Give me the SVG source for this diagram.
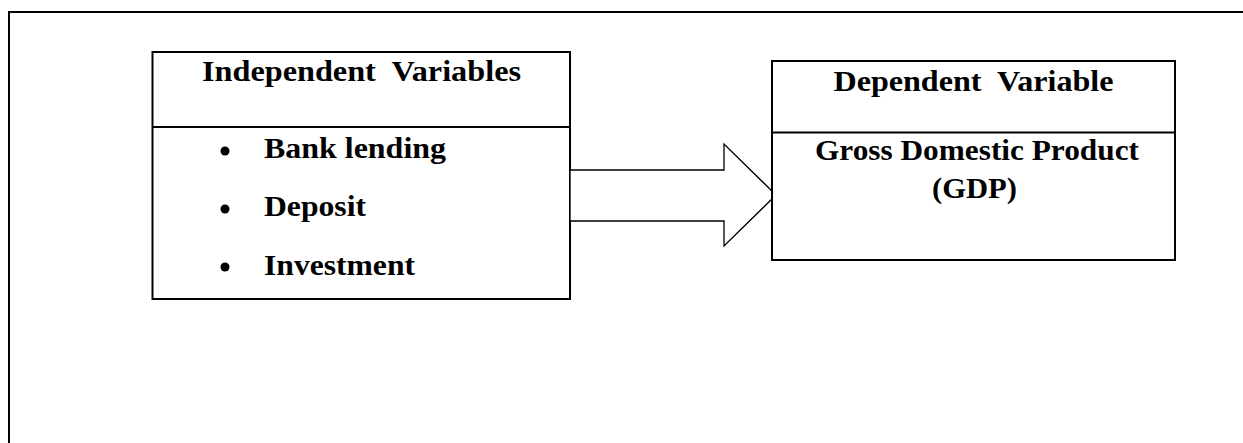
<svg xmlns="http://www.w3.org/2000/svg" width="1243" height="443" viewBox="0 0 1243 443">
<style>
.box{fill:#fff;stroke:#000;stroke-width:2}
.ln{stroke:#000;stroke-width:2;fill:none}
.t{font-family:"Liberation Serif","Times New Roman",serif;font-weight:bold;font-size:30px;fill:#000;white-space:pre}
.c{text-anchor:middle}
.arrow{fill:#fff;stroke:#000;stroke-width:1.3;stroke-linejoin:miter}
</style>
<rect width="1243" height="443" fill="#fff"/>
<path class="ln" d="M9,450 V12 H1250"/>
<g id="independent">
<rect class="box" x="152.5" y="52" width="417.5" height="247"/>
<line class="ln" x1="152.5" y1="127" x2="570" y2="127"/>
<text class="t c" x="361.5" y="81" textLength="319" lengthAdjust="spacingAndGlyphs" xml:space="preserve">Independent  Variables</text>
<circle cx="225" cy="151" r="4.5"/>
<circle cx="225" cy="209" r="4.5"/>
<circle cx="225" cy="267" r="4.5"/>
<text class="t" x="264" y="158" textLength="182" lengthAdjust="spacingAndGlyphs">Bank lending</text>
<text class="t" x="264" y="216" textLength="102" lengthAdjust="spacingAndGlyphs">Deposit</text>
<text class="t" x="264" y="275" textLength="151" lengthAdjust="spacingAndGlyphs">Investment</text>
</g>
<g id="connectors">
<polygon class="arrow" points="570,170 724,170 724,144 776,195 724,246 724,221 570,221"/>
</g>
<g id="dependent">
<rect class="box" x="772" y="61" width="403" height="199"/>
<line class="ln" x1="772" y1="132.5" x2="1175" y2="132.5"/>
<text class="t c" x="973.5" y="91" textLength="280" lengthAdjust="spacingAndGlyphs" xml:space="preserve">Dependent  Variable</text>
<text class="t c" x="977" y="160" textLength="324" lengthAdjust="spacingAndGlyphs">Gross Domestic Product</text>
<text class="t c" x="974.5" y="198" textLength="85" lengthAdjust="spacingAndGlyphs">(GDP)</text>
</g>
</svg>
